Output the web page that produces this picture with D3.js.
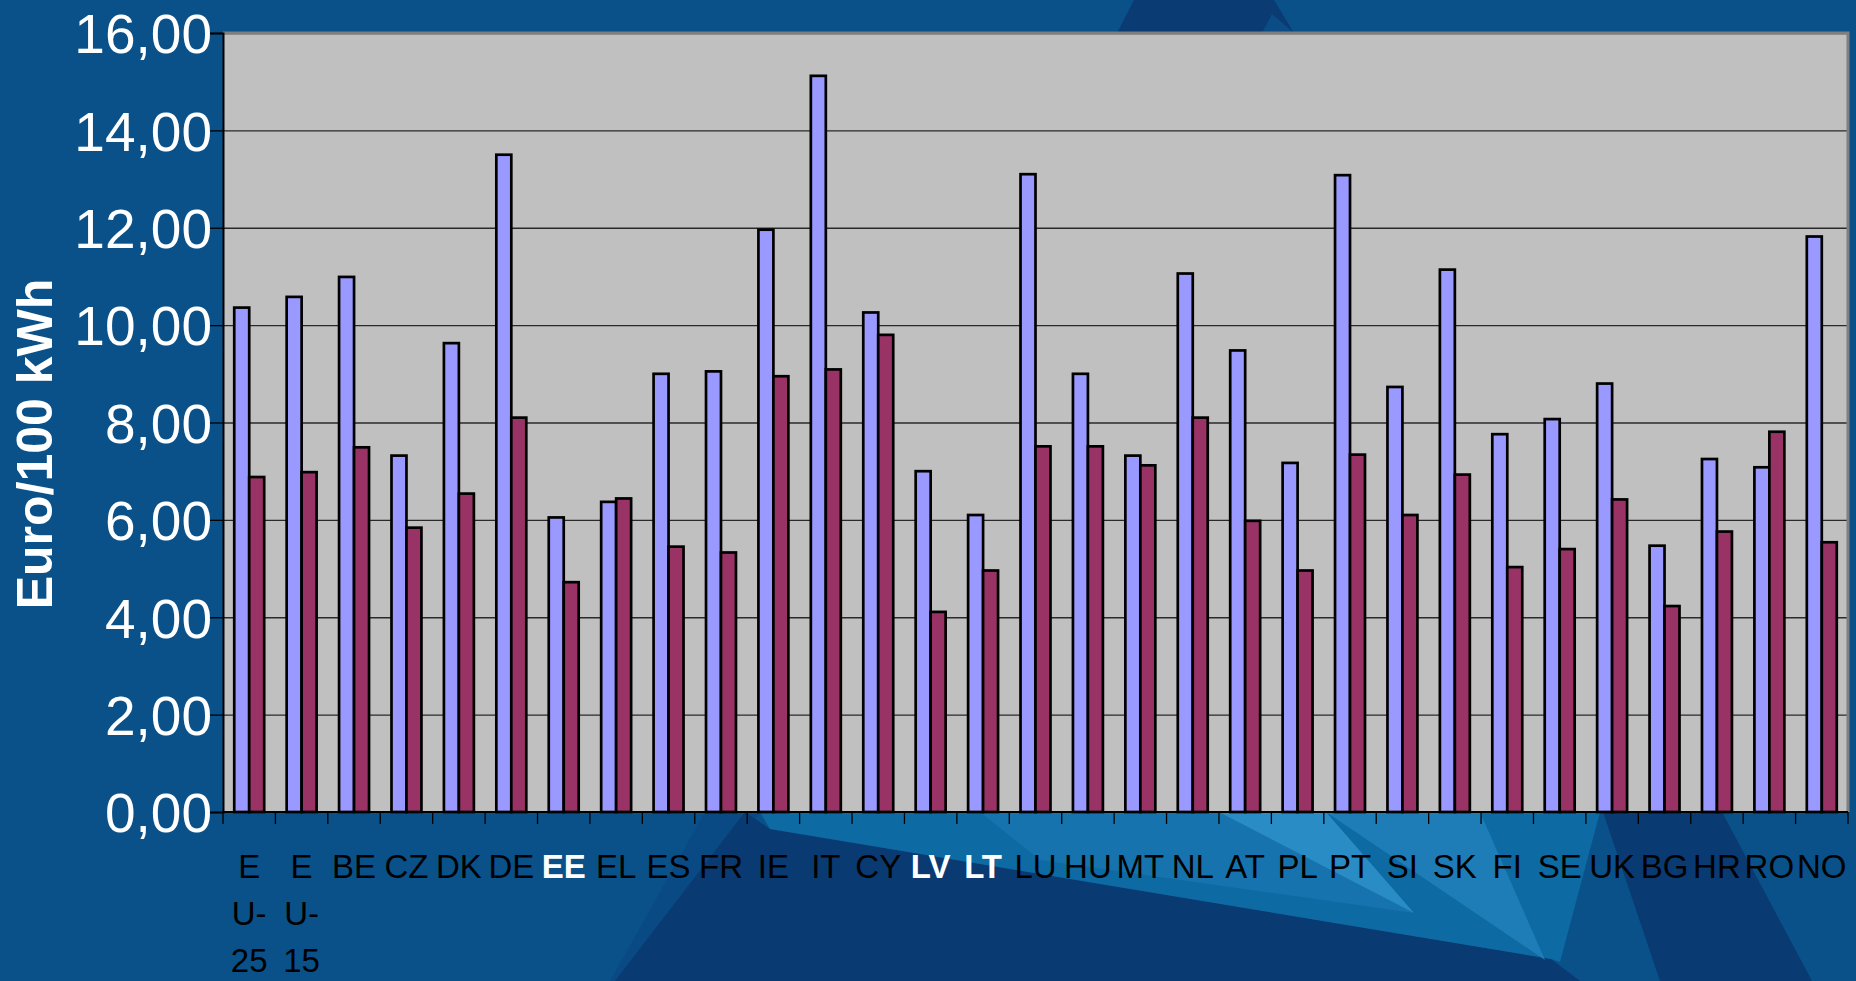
<!DOCTYPE html>
<html>
<head>
<meta charset="utf-8">
<script src="https://cdn.jsdelivr.net/npm/d3@7"></script>
<style>
  html, body { margin: 0; padding: 0; background: #0a5189; overflow: hidden; }
  svg { display: block; }
</style>
</head>
<body>
<svg id="chart" width="1856" height="981"></svg>
<script>
// ---- data ----
const categories = ["EU-25","EU-15","BE","CZ","DK","DE","EE","EL","ES","FR","IE","IT","CY","LV","LT","LU","HU","MT","NL","AT","PL","PT","SI","SK","FI","SE","UK","BG","HR","RO","NO"];
const labelLines = [["E","U-","25"],["E","U-","15"],["BE"],["CZ"],["DK"],["DE"],["EE"],["EL"],["ES"],["FR"],["IE"],["IT"],["CY"],["LV"],["LT"],["LU"],["HU"],["MT"],["NL"],["AT"],["PL"],["PT"],["SI"],["SK"],["FI"],["SE"],["UK"],["BG"],["HR"],["RO"],["NO"]];
const boldLabels = ["EE","LV","LT"];
const seriesNames = ["s1","s2"];
const series1 = [10.36,10.58,10.99,7.32,9.63,13.50,6.05,6.37,9.00,9.05,11.96,15.12,10.26,7.00,6.10,13.10,9.00,7.32,11.06,9.48,7.17,13.08,8.73,11.14,7.76,8.07,8.80,5.47,7.25,7.08,11.82];
const series2 = [6.88,6.98,7.49,5.84,6.54,8.10,4.72,6.44,5.45,5.33,8.95,9.09,9.80,4.11,4.96,7.51,7.51,7.12,8.10,5.98,4.96,7.34,6.10,6.93,5.03,5.40,6.42,4.23,5.76,7.81,5.54];
const yTicks = [0,2,4,6,8,10,12,14,16];
const yTitle = "Euro/100 kWh";

// ---- layout ----
const W = 1856, H = 981;
const plot = {left: 223, right: 1848, top: 33, bottom: 812};
const svg = d3.select("#chart");

// ---- background decoration ----
const bg = svg.append("g");
bg.append("rect").attr("width", W).attr("height", H).attr("fill", "#0a5189");
const shapes = [
  {fill: "#0a3b73", pts: [[1134,0],[1274,0],[1294,33],[1117,33]]},
  {fill: "#0b4c86", pts: [[1272,14],[1294,33],[1262,33]]},
  {fill: "#0a4a84", pts: [[705,812],[760,812],[640,981],[610,981]]},
  {fill: "#093a72", pts: [[745,812],[770,829],[1551,959],[1580,981],[615,981]]},
  {fill: "#0d6aa3", pts: [[760,812],[1600,812],[1560,962],[1551,959],[770,829]]},
  {fill: "#1773ad", pts: [[980,812],[1220,812],[1414,913],[1040,860]]},
  {fill: "#2a8cc4", pts: [[1219,812],[1326,812],[1414,913]]},
  {fill: "#1e7db7", pts: [[1326,812],[1480,812],[1545,960]]},
  {fill: "#093a72", pts: [[1603,812],[1722,812],[1812,981],[1660,981]]}
];
bg.selectAll("polygon").data(shapes).join("polygon")
  .attr("points", d => d.pts.map(p => p.join(",")).join(" "))
  .attr("fill", d => d.fill);

// ---- scales ----
const x = d3.scaleBand().domain(categories).range([plot.left, plot.right]).padding(0);
const x1 = d3.scaleBand().domain(seriesNames).range([0, x.bandwidth()]).paddingInner(0).paddingOuter(0.75);
const y = d3.scaleLinear().domain([0, 16]).range([plot.bottom, plot.top]);

// plot area
svg.append("rect")
  .attr("x", plot.left).attr("y", plot.top)
  .attr("width", plot.right - plot.left).attr("height", plot.bottom - plot.top)
  .attr("fill", "#c0c0c0");

// gridlines
const grid = svg.append("g").attr("transform", `translate(${plot.left},0)`)
  .call(d3.axisLeft(y).tickValues(yTicks.filter(d => d > 0)).tickSize(-(plot.right - plot.left)).tickFormat(""));
grid.select(".domain").remove();
grid.selectAll("line").attr("stroke", "#2a2a2a").attr("stroke-width", 1.3);

// border (top & right)
svg.append("path")
  .attr("d", `M${plot.left},${plot.top}H${plot.right}V${plot.bottom}`)
  .attr("fill", "none").attr("stroke", "#7f7f7f").attr("stroke-width", 3);

// bars
const rows = categories.map((c, i) => ({cat: c, vals: [series1[i], series2[i]]}));
const colors = {s1: "#9999ff", s2: "#993366"};
const groups = svg.append("g").selectAll("g").data(rows).join("g")
  .attr("transform", d => `translate(${x(d.cat)},0)`);
groups.selectAll("rect").data(d => seriesNames.map((s, k) => ({s, v: d.vals[k]}))).join("rect")
  .attr("x", d => x1(d.s))
  .attr("width", x1.bandwidth())
  .attr("y", d => y(d.v))
  .attr("height", d => y(0) - y(d.v))
  .attr("fill", d => colors[d.s])
  .attr("stroke", "#000").attr("stroke-width", 2.7);

// y axis
const yAxis = svg.append("g").attr("transform", `translate(${plot.left},0)`)
  .call(d3.axisLeft(y).tickValues(yTicks).tickSize(13).tickPadding(0)
    .tickFormat(d => d3.format(".2f")(d).replace(".", ",")));
yAxis.select(".domain").attr("stroke", "#000").attr("stroke-width", 2);
yAxis.selectAll("line").attr("stroke", "#000").attr("stroke-width", 1.3);
yAxis.selectAll("text")
  .attr("x", -11)
  .attr("dy", "0.36em")
  .attr("fill", "#fff")
  .style("font-family", "'Liberation Sans', Arial, sans-serif")
  .style("font-size", "55px");

// x axis line + boundary ticks
const xAxisG = svg.append("g");
xAxisG.append("line")
  .attr("x1", plot.left).attr("x2", plot.right)
  .attr("y1", plot.bottom).attr("y2", plot.bottom)
  .attr("stroke", "#000").attr("stroke-width", 2);
const bounds = categories.map(c => x(c)).concat([x.range()[1]]);
xAxisG.selectAll("line.tk").data(bounds).join("line").attr("class", "tk")
  .attr("x1", d => d).attr("x2", d => d)
  .attr("y1", plot.bottom).attr("y2", plot.bottom + 12)
  .attr("stroke", "#000").attr("stroke-width", 1.3);

// x labels
const lineStep = 47;
const firstBase = 878;
const lbl = svg.append("g").selectAll("text").data(categories).join("text")
  .attr("x", d => x(d) + x.bandwidth() / 2)
  .attr("y", firstBase)
  .attr("text-anchor", "middle")
  .attr("fill", d => boldLabels.includes(d) ? "#fff" : "#000")
  .style("font-weight", d => boldLabels.includes(d) ? "bold" : "normal")
  .style("font-family", "'Liberation Sans', Arial, sans-serif")
  .style("font-size", "33px");
lbl.each(function(d, i) {
  const t = d3.select(this);
  labelLines[i].forEach((ln, k) => {
    t.append("tspan").attr("x", x(d) + x.bandwidth() / 2).attr("y", firstBase + k * lineStep).text(ln);
  });
});

// y title
svg.append("text")
  .attr("transform", "translate(52,444) rotate(-90)")
  .attr("text-anchor", "middle")
  .attr("fill", "#fff")
  .style("font-family", "'Liberation Sans', Arial, sans-serif")
  .style("font-weight", "bold")
  .style("font-size", "50px")
  .text(yTitle);
</script>
</body>
</html>
